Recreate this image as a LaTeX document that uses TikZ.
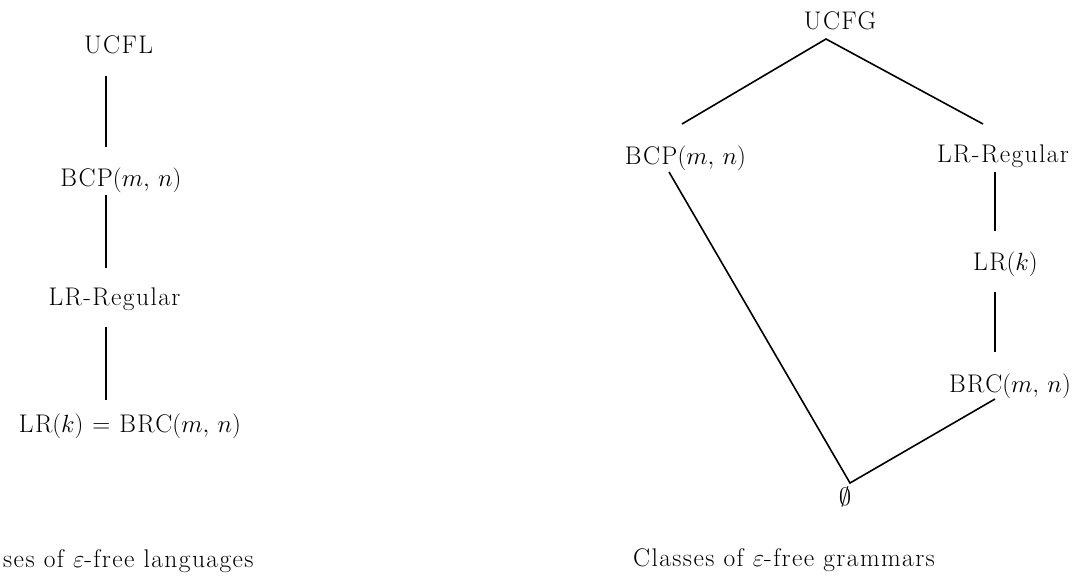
\documentclass[tikz,border=0pt]{standalone}
\usepackage{fontspec}
\setmainfont{Latin Modern Roman}[LetterSpace=5.5]
\begin{document}
\begin{tikzpicture}[x=1pt,y=-1pt,
  lbl/.style={inner sep=0pt, anchor=base, font=\fontsize{25.5}{30}\selectfont},
  conn/.style={line width=1.6pt, line cap=butt}]
\useasboundingbox (0,0) rectangle (1086,579);
% ---- left: languages
\node[lbl] (ucfl) at (118.5,53) {UCFL};
\node[lbl] (bcpL) at (121,186) {BCP$(m,\,n)$};
\node[lbl] (lrrL) at (114.5,305) {LR-Regular};
\node[lbl] (lrkL) at (130,432) {LR$(k)$\hspace{0.35em}$=$\hspace{0.35em}BRC$(m,\,n)$};
\node[lbl, anchor=base west] (capL) at (3,567) {ses of $\varepsilon$-free languages};
\coordinate (a1) at (106,76);  \coordinate (b1) at (106,147);
\coordinate (a2) at (106,195); \coordinate (b2) at (106,268);
\coordinate (a3) at (106,327); \coordinate (b3) at (106,400);
\draw[conn] (a1) -- (b1);
\draw[conn] (a2) -- (b2);
\draw[conn] (a3) -- (b3);
% ---- right: grammars
\node[lbl] (ucfg) at (840,29) {UCFG};
\node[lbl] (bcpR) at (685.5,164) {BCP$(m,\,n)$};
\node[lbl] (lrrR) at (1003,162) {LR-Regular};
\node[lbl] (lrkR) at (1005.5,270) {LR$(k)$};
\node[lbl] (brcR) at (1010,392) {BRC$(m,\,n)$};
\node[lbl] (empty) at (845,505) {$\emptyset$};
\node[lbl] (capR) at (784,566) {Classes of $\varepsilon$-free grammars};
\coordinate (top) at (826,39);
\coordinate (tl) at (682,124);
\coordinate (tr) at (983,124);
\coordinate (bl) at (669,172);
\coordinate (v) at (850,483);
\coordinate (br) at (995,399);
\coordinate (r1a) at (995,172); \coordinate (r1b) at (995,231);
\coordinate (r2a) at (995,292); \coordinate (r2b) at (995,352);
\draw[conn] (tl) -- (top) -- (tr);
\draw[conn] (bl) -- (v) -- (br);
\draw[conn] (r1a) -- (r1b);
\draw[conn] (r2a) -- (r2b);
\end{tikzpicture}
\end{document}
